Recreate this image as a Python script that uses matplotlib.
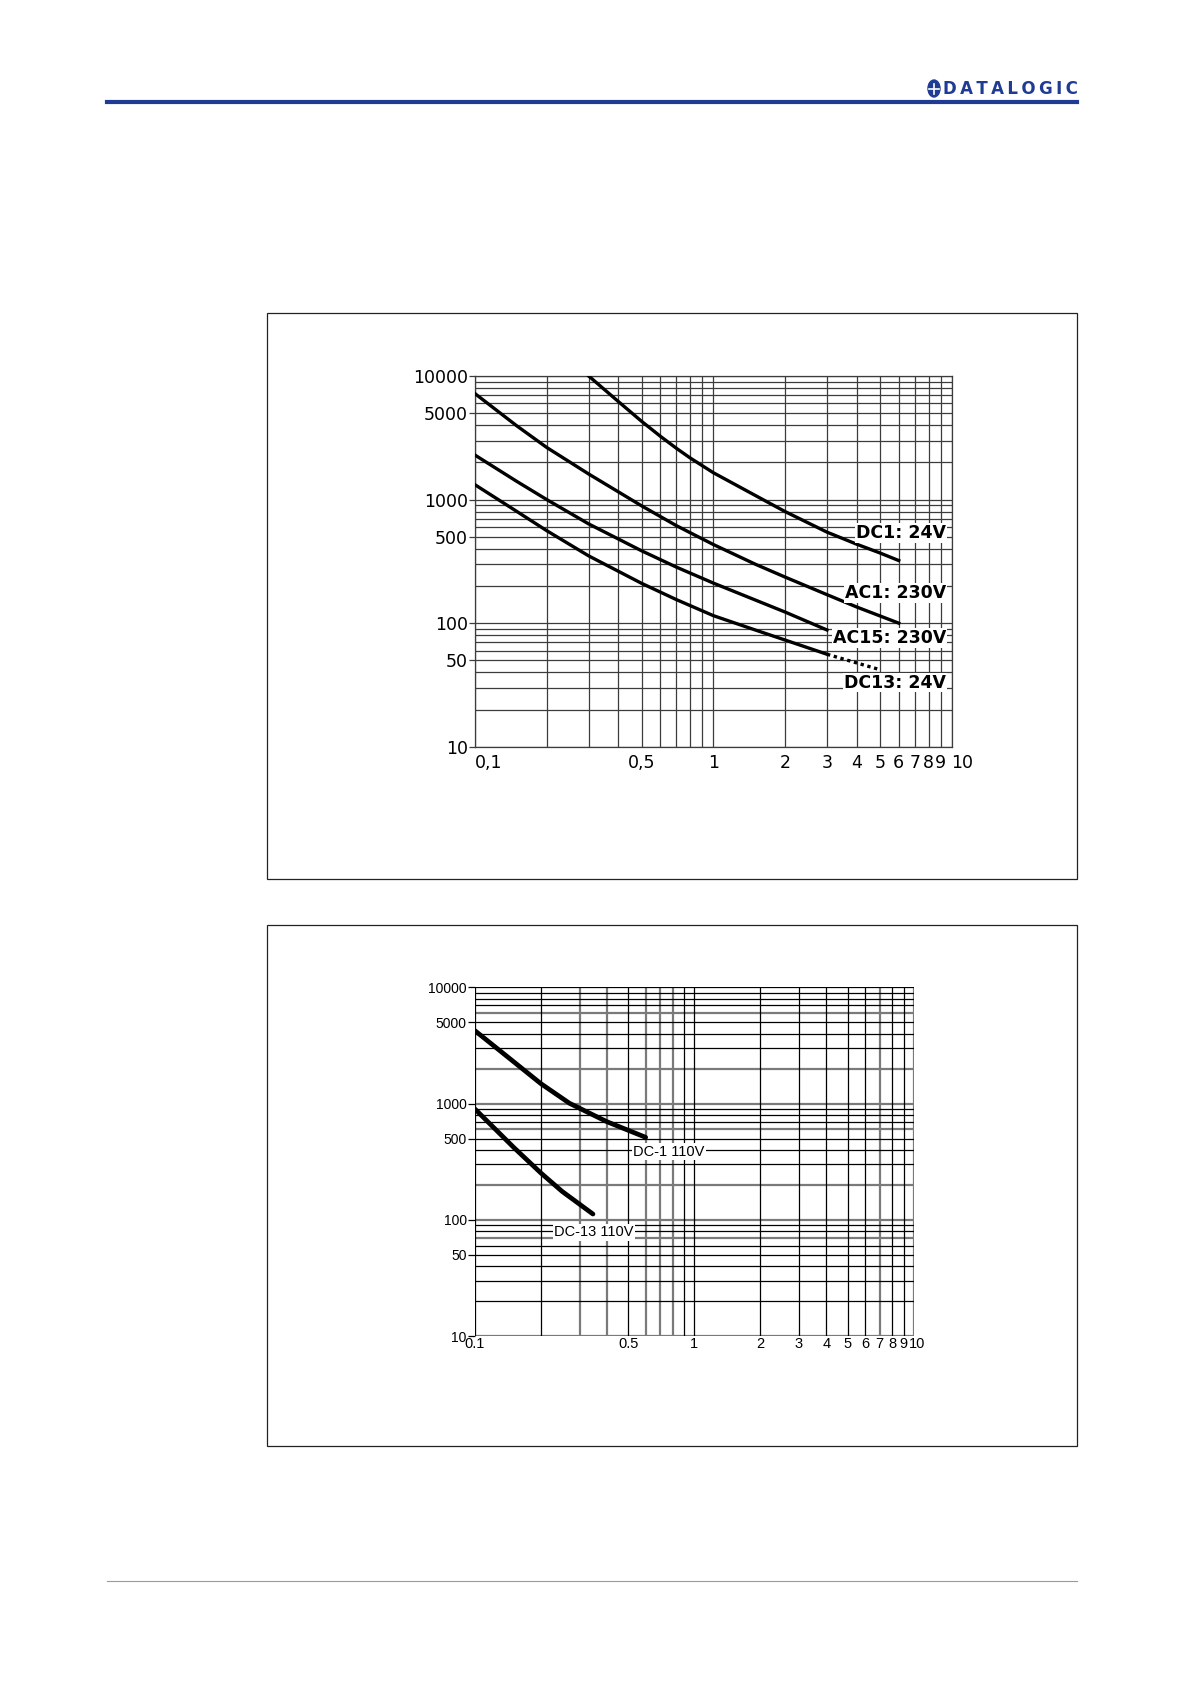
import matplotlib.pyplot as plt
from matplotlib.patches import Rectangle, Circle
from matplotlib.lines import Line2D
from matplotlib.transforms import ScaledTranslation

W, H = 1191, 1684

# ---- data, chart 1 ----
dc1_24_x = [0.3, 0.4, 0.5, 0.6, 0.7, 0.8, 1, 1.5, 2, 3, 4, 5, 6]
dc1_24_y = [10000, 6200, 4300, 3250, 2600, 2170, 1650, 1080, 800, 545, 435, 370, 321]
ac1_230_x = [0.1, 0.15, 0.2, 0.3, 0.5, 0.7, 1, 1.5, 2, 3, 4, 6]
ac1_230_y = [7200, 3940, 2640, 1610, 890, 615, 433, 300, 236, 170, 135, 100]
ac15_230_x = [0.1, 0.15, 0.2, 0.3, 0.5, 0.7, 1, 2, 3]
ac15_230_y = [2290, 1400, 1000, 635, 385, 284, 211, 123, 88]
dc13_24_x = [0.1, 0.15, 0.2, 0.3, 0.5, 0.7, 1, 1.5, 2, 3]
dc13_24_y = [1318, 800, 560, 350, 210, 155, 115, 88, 73, 56]
dc13_24_dot_x = [3, 5]
dc13_24_dot_y = [56, 42]
labels1 = ['DC1: 24V', 'AC1: 230V', 'AC15: 230V', 'DC13: 24V']
labels1_y = [533, 176, 75.5, 33]

# ---- data, chart 2 ----
dc1_110_x = [0.1, 0.15, 0.2, 0.27, 0.33, 0.4, 0.6]
dc1_110_y = [4230, 2290, 1480, 1004, 833, 697, 512]
dc13_110_x = [0.1, 0.15, 0.2, 0.25, 0.345]
dc13_110_y = [896, 420, 252, 175, 112]
labels2 = ['DC-1 110V', 'DC-13 110V']
labels2_x = [0.527, 0.23]
labels2_y = [384, 78]

yticks = [10, 50, 100, 500, 1000, 5000, 10000]
xticks = [0.1, 0.5, 1, 2, 3, 4, 5, 6, 7, 8, 9, 10]
xlabels1 = ['0,1', '0,5', '1', '2', '3', '4', '5', '6', '7', '8', '9', '10']
xlabels2 = ['0.1', '0.5', '1', '2', '3', '4', '5', '6', '7', '8', '9', '10']

vgrid = [0.1, 0.2, 0.3, 0.4, 0.5, 0.6, 0.7, 0.8, 0.9, 1, 2, 3, 4, 5, 6, 7, 8, 9, 10]
hgrid = [10, 20, 30, 40, 50, 60, 70, 80, 90, 100, 200, 300, 400, 500, 600, 700, 800, 900,
         1000, 2000, 3000, 4000, 5000, 6000, 7000, 8000, 9000, 10000]
# chart 2 grid: gray (thick) vs black (thin) lines
vgray2 = [0.3, 0.4, 0.6, 0.7, 0.8, 7, 10]
hgray2 = [10, 70, 100, 200, 600, 1000, 2000, 6000]


def fx(px):
    return px / W


def fy(py):
    return 1 - py / H


fig = plt.figure(figsize=(W / 100, H / 100), dpi=100)

# header / footer
blue = '#1f3b94'
fig.add_artist(Line2D([fx(107), fx(1077)], [fy(101.5), fy(101.5)], color=blue, lw=3))
fig.add_artist(Line2D([fx(107), fx(1077)], [fy(1581), fy(1581)], color='#9a9a9a', lw=0.8))
fig.text(fx(1078), fy(94.5), '\u2009'.join('DATALOGIC'), ha='right', va='baseline',
         fontsize=12, fontweight='bold', color=blue, family='DejaVu Sans')
fig.add_artist(Circle((fx(934), fy(88.5)), 6 / W, color=blue, transform=fig.transFigure))
fig.add_artist(Line2D([fx(929), fx(939)], [fy(88.5), fy(88.5)], color='white', lw=1.2))
fig.add_artist(Line2D([fx(934), fx(934)], [fy(83.5), fy(93.5)], color='white', lw=1.2))

# frames
fig.add_artist(Rectangle((fx(266.5), fy(878.5)), (1077 - 266.5) / W, (878.5 - 312.5) / H,
                         transform=fig.transFigure, fill=False, ec='#222222', lw=0.9))
fig.add_artist(Rectangle((fx(266.5), fy(1445.5)), (1077 - 266.5) / W, (1445.5 - 924.7) / H,
                         transform=fig.transFigure, fill=False, ec='#222222', lw=0.9))

# ---------------- chart 1 ----------------
ax1 = fig.add_axes([fx(475), fy(746.7), (951.6 - 475) / W, (746.7 - 376) / H])
ax1.set_xscale('log')
ax1.set_yscale('log')
ax1.set_xlim(0.1, 10)
ax1.set_ylim(10, 10000)
for v in vgrid:
    ax1.axvline(v, color='#3c3c3c', lw=0.9, zorder=1)
for h in hgrid:
    ax1.axhline(h, color='#3c3c3c', lw=0.9, zorder=1)
for s in ax1.spines.values():
    s.set_color('#3c3c3c')
    s.set_linewidth(0.9)

ax1.plot(dc1_24_x, dc1_24_y, color='black', lw=2.4, zorder=3)
ax1.plot(ac1_230_x, ac1_230_y, color='black', lw=2.4, zorder=3)
ax1.plot(ac15_230_x, ac15_230_y, color='black', lw=2.4, zorder=3)
ax1.plot(dc13_24_x, dc13_24_y, color='black', lw=2.4, zorder=3)
ax1.plot(dc13_24_dot_x, dc13_24_dot_y, color='black', lw=2.4, ls=(0, (1, 1.1)), zorder=3)
for lab, yv in zip(labels1, labels1_y):
    ax1.text(9.5, yv, lab, ha='right', va='center', fontsize=12.5, fontweight='bold',
             family='DejaVu Sans', zorder=4,
             bbox=dict(facecolor='white', edgecolor='none', pad=0.6))

ax1.set_yticks(yticks)
ax1.set_yticklabels([str(t) for t in yticks], family='DejaVu Sans', fontsize=12.5)
ax1.set_xticks(xticks)
ax1.set_xticklabels(xlabels1, family='DejaVu Sans', fontsize=12.5)
ax1.minorticks_off()
ax1.tick_params(axis='y', length=4, width=0.9, color='#3c3c3c', pad=1)
ax1.tick_params(axis='x', length=0, pad=5)
ax1.get_xticklabels()[0].set_ha('left')
ax1.get_xticklabels()[-1].set_ha('left')

# ---------------- chart 2 ----------------
ax2 = fig.add_axes([fx(475), fy(1336), (913.6 - 475) / W, (1336 - 987.3) / H])
ax2.set_xscale('log')
ax2.set_yscale('log')
ax2.set_xlim(0.1, 10)
ax2.set_ylim(10, 10000)
for v in vgrid:
    if v in vgray2:
        ax2.axvline(v, color='#7a7a7a', lw=1.6, zorder=1)
    else:
        ax2.axvline(v, color='black', lw=0.9, zorder=1.5)
for h in hgrid:
    if h in hgray2:
        ax2.axhline(h, color='#7a7a7a', lw=1.6, zorder=1)
    else:
        ax2.axhline(h, color='black', lw=0.9, zorder=1.5)
for s in ax2.spines.values():
    s.set_visible(False)

ax2.plot(dc1_110_x, dc1_110_y, color='black', lw=3.4, solid_capstyle='round', zorder=3)
ax2.plot(dc13_110_x, dc13_110_y, color='black', lw=3.4, solid_capstyle='round', zorder=3)
for lab, xv, yv in zip(labels2, labels2_x, labels2_y):
    ax2.text(xv, yv, lab, ha='left', va='center', fontsize=10.5,
             family='Liberation Sans', zorder=4,
             bbox=dict(facecolor='white', edgecolor='none', pad=1.2))

ax2.set_yticks(yticks)
ax2.set_yticklabels([str(t) for t in yticks], family='Liberation Sans', fontsize=10)
ax2.set_xticks(xticks)
ax2.set_xticklabels(xlabels2, family='Liberation Sans', fontsize=10.5)
ax2.minorticks_off()
ax2.tick_params(axis='y', length=5, width=0.9, pad=1)
ax2.tick_params(axis='x', length=0, pad=1)
last = ax2.get_xticklabels()[-1]
last.set_transform(last.get_transform() + ScaledTranslation(3.5 / 100, 0, fig.dpi_scale_trans))

fig.savefig('out.png', dpi=100)
